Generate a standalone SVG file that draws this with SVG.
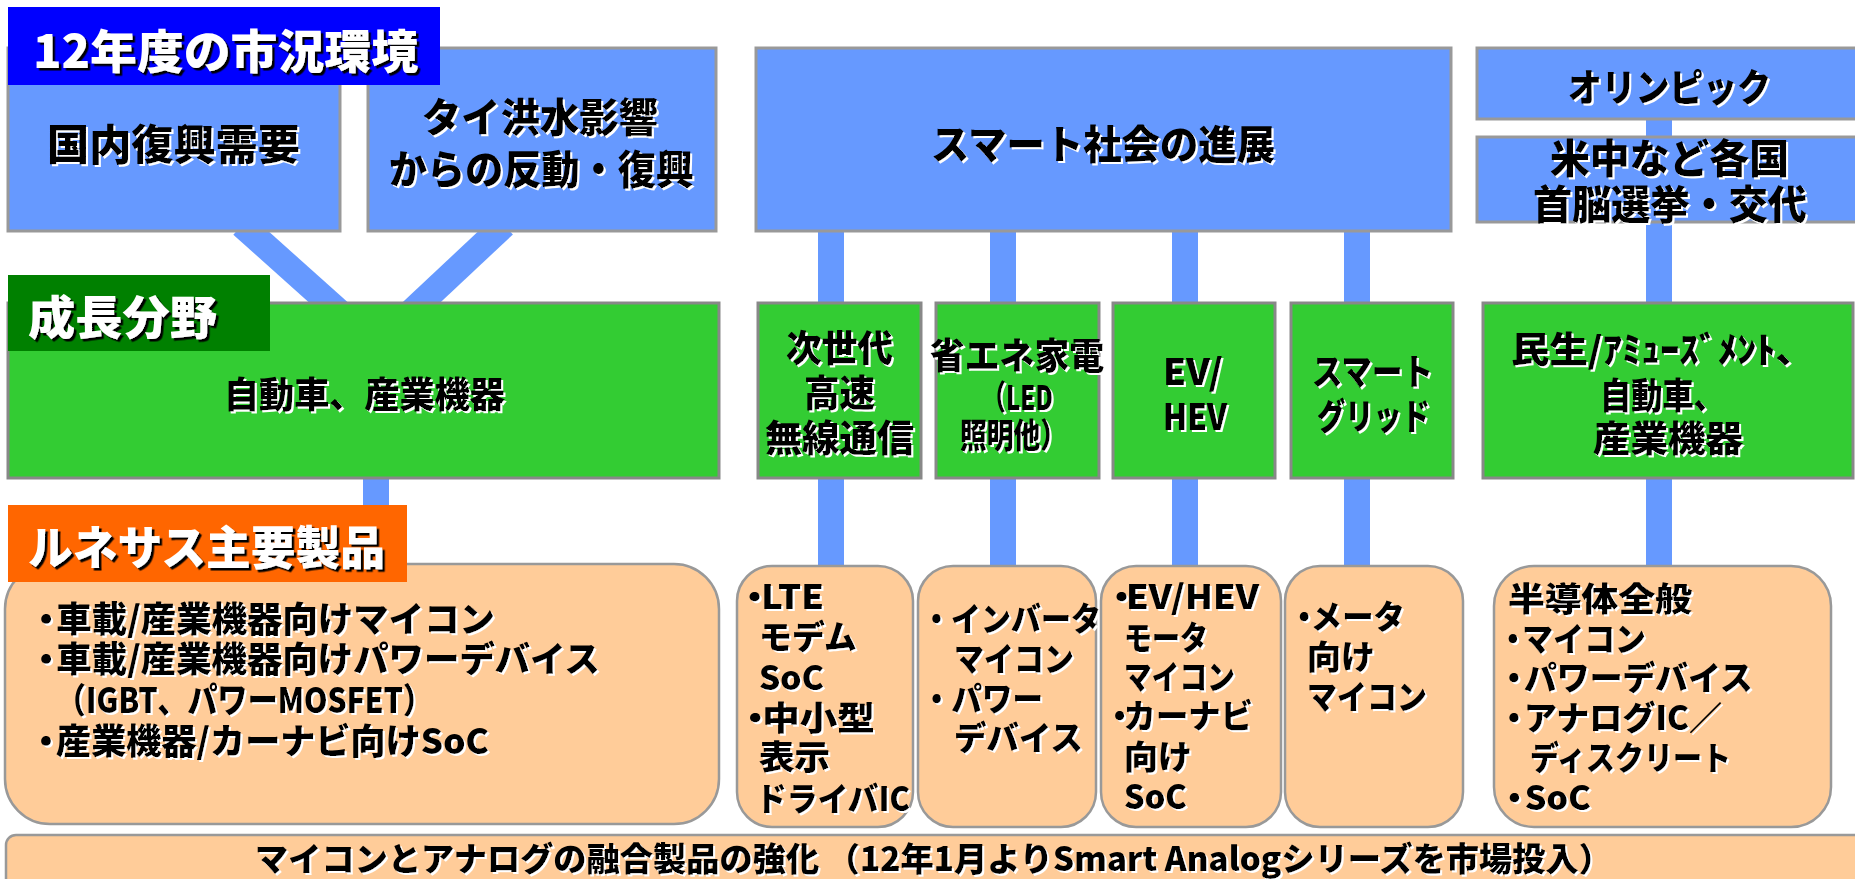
<svg xmlns="http://www.w3.org/2000/svg" width="1855" height="879" viewBox="0 0 1855 879">
<defs>
<filter id="ws" x="-5%" y="-20%" width="110%" height="140%"><feDropShadow dx="2" dy="2" stdDeviation="0" flood-color="#ffffff" flood-opacity="1"/></filter>
<filter id="bs" x="-5%" y="-20%" width="110%" height="140%"><feDropShadow dx="2.5" dy="2.5" stdDeviation="0" flood-color="#000000" flood-opacity="1"/></filter>
<style>
.t{font-family:"Noto Sans CJK JP","Noto Sans",sans-serif;font-weight:900;}
.k{fill:#000;filter:url(#ws);}
.w{fill:#fff;filter:url(#bs);}
.blue{fill:#6699FF;stroke:#999999;stroke-width:3;}
.green{fill:#33CC33;stroke:#888888;stroke-width:3;}
.orange{fill:#FFCC99;stroke:#999999;stroke-width:2.5;}
.conn{stroke:#6699FF;stroke-width:26;fill:none;stroke-linecap:butt;}
</style>
</defs>
<rect width="1855" height="879" fill="#ffffff"/>

<g id="connectors">
<line class="conn" x1="242" y1="225" x2="376" y2="345"/>
<line class="conn" x1="504" y1="225" x2="376" y2="345"/>
<line class="conn" x1="376" y1="340" x2="376" y2="570"/>
<line class="conn" x1="831" y1="225" x2="831" y2="570"/>
<line class="conn" x1="1003" y1="225" x2="1003" y2="570"/>
<line class="conn" x1="1185" y1="225" x2="1185" y2="570"/>
<line class="conn" x1="1357" y1="225" x2="1357" y2="570"/>
<line class="conn" x1="1659" y1="110" x2="1659" y2="570"/>
</g>

<g id="n-kokunai">
<rect class="blue" x="8" y="48" width="332" height="183"/>
<text class="t k" x="47" y="160" font-size="42" textLength="253" lengthAdjust="spacingAndGlyphs">国内復興需要</text>
</g>
<g id="n-thai">
<rect class="blue" x="368" y="48" width="348" height="183"/>
<text class="t k" x="422" y="132" font-size="40" textLength="236" lengthAdjust="spacingAndGlyphs">タイ洪水影響</text>
<text class="t k" x="389" y="184" font-size="40" textLength="305" lengthAdjust="spacingAndGlyphs">からの反動・復興</text>
</g>
<g id="n-smart">
<rect class="blue" x="756" y="48" width="695" height="183"/>
<text class="t k" x="931" y="159" font-size="40" textLength="344" lengthAdjust="spacingAndGlyphs">スマート社会の進展</text>
</g>
<g id="n-olympic">
<rect class="blue" x="1477" y="48" width="390" height="71"/>
<text class="t k" x="1568" y="101" font-size="38" textLength="203" lengthAdjust="spacingAndGlyphs">オリンピック</text>
</g>
<g id="n-election">
<rect class="blue" x="1477" y="137" width="390" height="85"/>
<text class="t k" x="1550" y="173" font-size="40" textLength="239" lengthAdjust="spacingAndGlyphs">米中など各国</text>
<text class="t k" x="1533" y="219" font-size="40" textLength="274" lengthAdjust="spacingAndGlyphs">首脳選挙・交代</text>
</g>

<g id="n-auto">
<rect class="green" x="8" y="303" width="711" height="175"/>
<text class="t k" x="224" y="408" font-size="36" textLength="281" lengthAdjust="spacingAndGlyphs">自動車、産業機器</text>
</g>
<g id="n-wireless">
<rect class="green" x="758" y="303" width="163" height="175"/>
<text class="t k" x="786" y="362" font-size="37" textLength="107" lengthAdjust="spacingAndGlyphs">次世代</text>
<text class="t k" x="804" y="407" font-size="37" textLength="71" lengthAdjust="spacingAndGlyphs">高速</text>
<text class="t k" x="765" y="452" font-size="37" textLength="149" lengthAdjust="spacingAndGlyphs">無線通信</text>
</g>
<g id="n-kaden">
<rect class="green" x="936" y="303" width="163" height="175"/>
<text class="t k" x="930" y="369" font-size="36" textLength="174" lengthAdjust="spacingAndGlyphs">省エネ家電</text>
<text class="t k" x="982" y="410" font-size="34" textLength="71" lengthAdjust="spacingAndGlyphs">（LED</text>
<text class="t k" x="960" y="448" font-size="34" textLength="107" lengthAdjust="spacingAndGlyphs">照明他）</text>
</g>
<g id="n-ev">
<rect class="green" x="1113" y="303" width="162" height="175"/>
<text class="t k" x="1163" y="385" font-size="36" textLength="60" lengthAdjust="spacingAndGlyphs">EV/</text>
<text class="t k" x="1163" y="430" font-size="36" textLength="64" lengthAdjust="spacingAndGlyphs">HEV</text>
</g>
<g id="n-grid">
<rect class="green" x="1291" y="303" width="162" height="175"/>
<text class="t k" x="1312" y="385" font-size="36" textLength="121" lengthAdjust="spacingAndGlyphs">スマート</text>
<text class="t k" x="1317" y="430" font-size="36" textLength="113" lengthAdjust="spacingAndGlyphs">グリッド</text>
</g>
<g id="n-consumer">
<rect class="green" x="1483" y="303" width="370" height="175"/>
<text class="t k" x="1511" y="363" font-size="36" textLength="303" lengthAdjust="spacingAndGlyphs">民生/ｱﾐｭｰｽﾞﾒﾝﾄ、</text>
<text class="t k" x="1600" y="409" font-size="36" textLength="125" lengthAdjust="spacingAndGlyphs">自動車、</text>
<text class="t k" x="1593" y="452" font-size="36" textLength="150" lengthAdjust="spacingAndGlyphs">産業機器</text>
</g>

<g id="n-prod-main">
<rect class="orange" x="5" y="564" width="714" height="260" rx="45" ry="45"/>
<text class="t k" x="28.5" y="632" font-size="35" textLength="466.5" lengthAdjust="spacingAndGlyphs">・<tspan dx="-7.5">車載/産業機器向けマイコン</tspan></text>
<text class="t k" x="28.5" y="672" font-size="35" textLength="571.5" lengthAdjust="spacingAndGlyphs">・<tspan dx="-7.5">車載/産業機器向けパワーデバイス</tspan></text>
<text class="t k" x="56" y="713" font-size="35" textLength="377" lengthAdjust="spacingAndGlyphs">（IGBT、パワーMOSFET）</text>
<text class="t k" x="28.5" y="754" font-size="35" textLength="460.5" lengthAdjust="spacingAndGlyphs">・<tspan dx="-7.5">産業機器/カーナビ向けSoC</tspan></text>
</g>
<g id="n-prod-lte">
<rect class="orange" x="737" y="566" width="176" height="261" rx="35" ry="35"/>
<text class="t k" x="736.5" y="609" font-size="33" textLength="87.5" lengthAdjust="spacingAndGlyphs">・<tspan dx="-10.5">LTE</tspan></text>
<text class="t k" x="759" y="649" font-size="33" textLength="98" lengthAdjust="spacingAndGlyphs">モデム</text>
<text class="t k" x="759" y="690" font-size="33" textLength="65" lengthAdjust="spacingAndGlyphs">SoC</text>
<text class="t k" x="736.5" y="730" font-size="33" textLength="138.5" lengthAdjust="spacingAndGlyphs">・<tspan dx="-10.5">中小型</tspan></text>
<text class="t k" x="759" y="769" font-size="33" textLength="71" lengthAdjust="spacingAndGlyphs">表示</text>
<text class="t k" x="756" y="811" font-size="33" textLength="154" lengthAdjust="spacingAndGlyphs">ドライバIC</text>
</g>
<g id="n-prod-inverter">
<rect class="orange" x="918" y="566" width="178" height="261" rx="35" ry="35"/>
<text class="t k" x="921.5" y="631" font-size="33" textLength="179.5" lengthAdjust="spacingAndGlyphs">・<tspan dx="-0.5">インバータ</tspan></text>
<text class="t k" x="954" y="671" font-size="33" textLength="120" lengthAdjust="spacingAndGlyphs">マイコン</text>
<text class="t k" x="921.5" y="711" font-size="33" textLength="121.5" lengthAdjust="spacingAndGlyphs">・<tspan dx="-0.5">パワー</tspan></text>
<text class="t k" x="954" y="750" font-size="33" textLength="129" lengthAdjust="spacingAndGlyphs">デバイス</text>
</g>
<g id="n-prod-ev">
<rect class="orange" x="1101" y="566" width="180" height="261" rx="35" ry="35"/>
<text class="t k" x="1103.5" y="609" font-size="33" textLength="155.5" lengthAdjust="spacingAndGlyphs">・<tspan dx="-12.5">EV/HEV</tspan></text>
<text class="t k" x="1124" y="650" font-size="33" textLength="84" lengthAdjust="spacingAndGlyphs">モータ</text>
<text class="t k" x="1124" y="689" font-size="33" textLength="111" lengthAdjust="spacingAndGlyphs">マイコン</text>
<text class="t k" x="1103.5" y="728" font-size="33" textLength="149.5" lengthAdjust="spacingAndGlyphs">・<tspan dx="-12.5">カーナビ</tspan></text>
<text class="t k" x="1124" y="769" font-size="33" textLength="68" lengthAdjust="spacingAndGlyphs">向け</text>
<text class="t k" x="1124" y="809" font-size="33" textLength="63" lengthAdjust="spacingAndGlyphs">SoC</text>
</g>
<g id="n-prod-meter">
<rect class="orange" x="1285" y="566" width="178" height="261" rx="35" ry="35"/>
<text class="t k" x="1288.5" y="629" font-size="33" textLength="116.5" lengthAdjust="spacingAndGlyphs">・<tspan dx="-9.5">メータ</tspan></text>
<text class="t k" x="1307" y="669" font-size="33" textLength="68" lengthAdjust="spacingAndGlyphs">向け</text>
<text class="t k" x="1307" y="709" font-size="33" textLength="120" lengthAdjust="spacingAndGlyphs">マイコン</text>
</g>
<g id="n-prod-semi">
<rect class="orange" x="1494" y="566" width="337" height="261" rx="40" ry="40"/>
<text class="t k" x="1508" y="611" font-size="33" textLength="184" lengthAdjust="spacingAndGlyphs">半導体全般</text>
<text class="t k" x="1497.5" y="651" font-size="33" textLength="148.5" lengthAdjust="spacingAndGlyphs">・<tspan dx="-6.5">マイコン</tspan></text>
<text class="t k" x="1497.5" y="690" font-size="33" textLength="255.5" lengthAdjust="spacingAndGlyphs">・<tspan dx="-6.5">パワーデバイス</tspan></text>
<text class="t k" x="1497.5" y="730" font-size="33" textLength="224.5" lengthAdjust="spacingAndGlyphs">・<tspan dx="-6.5">アナログIC／</tspan></text>
<text class="t k" x="1530" y="770" font-size="33" textLength="201" lengthAdjust="spacingAndGlyphs">ディスクリート</text>
<text class="t k" x="1497.5" y="810" font-size="33" textLength="93.5" lengthAdjust="spacingAndGlyphs">・<tspan dx="-6.5">SoC</tspan></text>
</g>
<g id="n-bottom">
<rect class="orange" x="6" y="835" width="1870" height="60" rx="10" ry="10"/>
<text class="t k" x="255" y="871" font-size="33" textLength="1357" lengthAdjust="spacingAndGlyphs">マイコンとアナログの融合製品の強化 （12年1月よりSmart Analogシリーズを市場投入）</text>
</g>

<g id="label-market">
<rect x="8" y="7" width="432" height="78" fill="#0000FF"/>
<text class="t w" x="33" y="68" font-size="46" textLength="385" lengthAdjust="spacingAndGlyphs">12年度の市況環境</text>
</g>
<g id="label-growth">
<rect x="8" y="275" width="262" height="76" fill="#008000"/>
<text class="t w" x="28" y="334" font-size="46" textLength="189" lengthAdjust="spacingAndGlyphs">成長分野</text>
</g>
<g id="label-products">
<rect x="8" y="505" width="399" height="77" fill="#FF6600"/>
<text class="t w" x="28" y="564" font-size="46" textLength="357" lengthAdjust="spacingAndGlyphs">ルネサス主要製品</text>
</g>
</svg>
